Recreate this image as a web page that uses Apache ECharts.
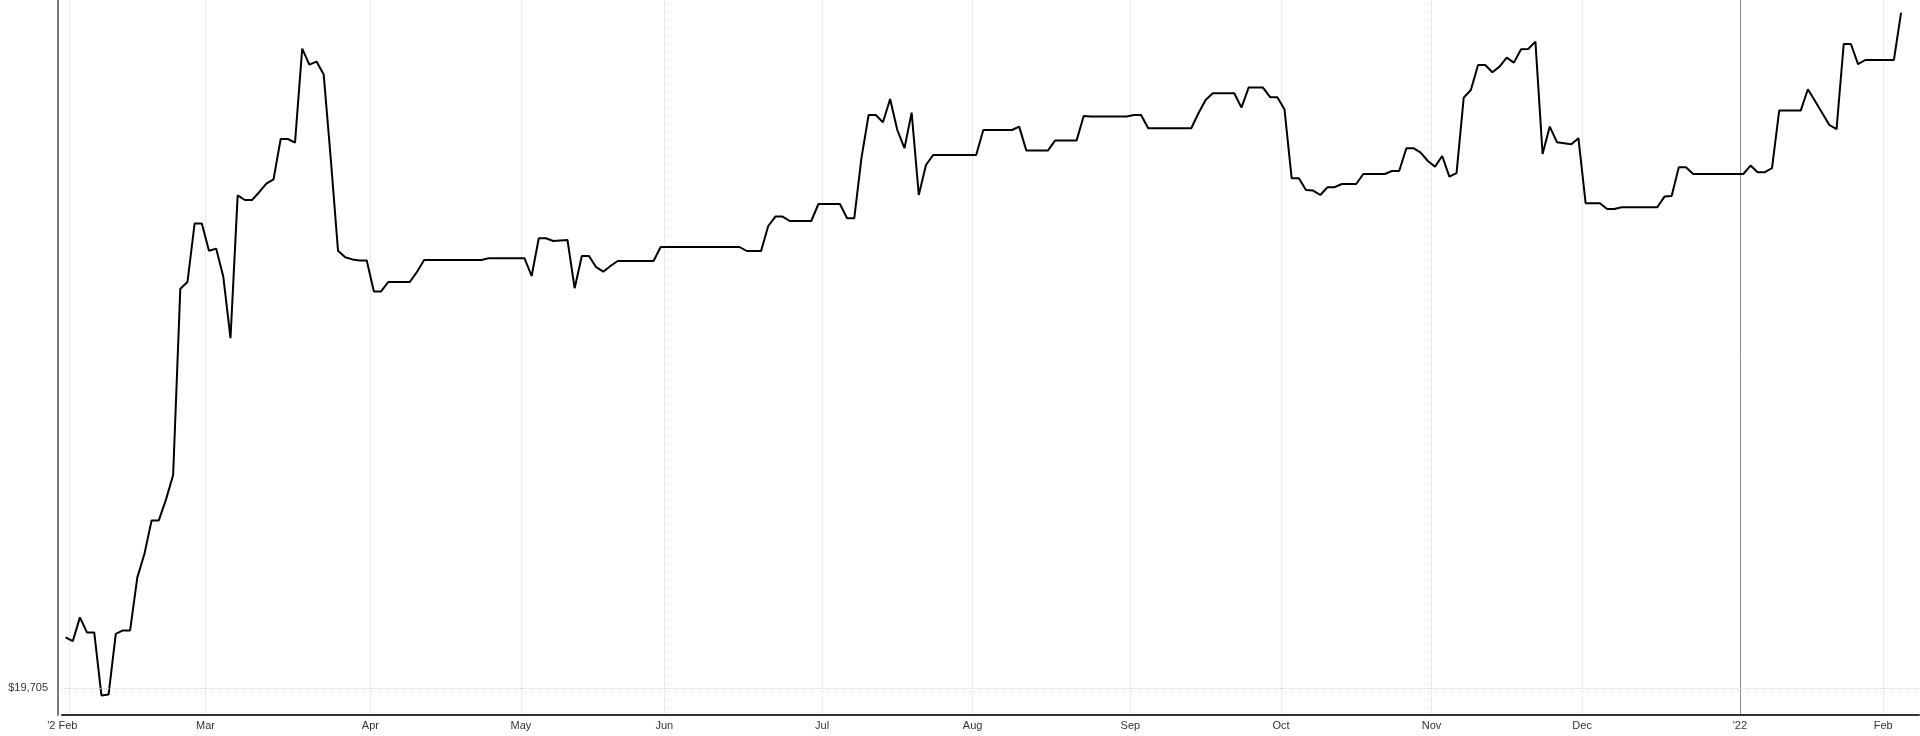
<!DOCTYPE html>
<html><head><meta charset="utf-8">
<script src="https://cdn.jsdelivr.net/npm/echarts@6/dist/echarts.min.js"></script>
<style>html,body{margin:0;padding:0;background:#fff}#c{width:1920px;height:736px}</style>
</head><body><div id="c"></div>
<script>
// ---- calendar (trading days) ----
const startDate = '2021-01-29';
const endDate = '2022-02-07';
const holidays = ['2021-02-15','2021-04-02','2021-05-31','2021-07-05','2021-09-06','2021-11-25','2021-12-24','2022-01-17'];
const yearStart = '2022-01-03';
const yearHelper = '2022-02-01';

// ---- tick labels ----
const monthLabels = ['Jan','Feb','Mar','Apr','May','Jun','Jul','Aug','Sep','Oct','Nov','Dec'];
const firstLabel = "'2 Feb";
const yearLabel = "'22";
const yLabelValues = [19705];

// ---- series values (closing values, one per trading day) ----
const jan2021 = [19958];
const feb2021 = [19939,20058,19982,19982,19668,19673,19976,19993,19993,20257,20376,20543,20543,20647,20770,21701,21735,22028,22028];
const mar2021 = [21891,21902,21761,21454,22168,22145,22145,22184,22227,22248,22450,22450,22432,22902,22822,22837,22772,22345,21891,21859,21848,21842,21842];
const apr2021 = [21688,21688,21735,21735,21735,21735,21785,21845,21845,21845,21845,21845,21845,21845,21845,21845,21854,21854,21854,21854,21854];
const may2021 = [21854,21765,21954,21954,21940,21943,21945,21704,21865,21865,21809,21787,21815,21840,21840,21840,21840,21840,21840,21910];
const jun2021 = [21910,21910,21910,21910,21910,21910,21910,21910,21910,21910,21910,21890,21890,21890,22015,22062,22062,22040,22040,22040,22040,22125];
const jul2021 = [22125,22125,22125,22054,22054,22354,22570,22570,22534,22650,22495,22404,22582,22170,22320,22370,22370,22370,22370,22370,22370];
const aug2021 = [22370,22495,22495,22495,22495,22495,22512,22392,22392,22392,22392,22442,22442,22442,22442,22565,22562,22562,22562,22562,22562,22562];
const sep2021 = [22570,22570,22504,22504,22504,22504,22504,22504,22504,22579,22645,22679,22679,22679,22679,22607,22707,22707,22707,22659,22659];
const oct2021 = [22599,22254,22254,22195,22192,22170,22209,22209,22225,22225,22225,22275,22275,22275,22275,22290,22290,22404,22404,22382,22340];
const nov2021 = [22312,22365,22262,22279,22657,22695,22820,22820,22784,22812,22857,22832,22899,22900,22937,22375,22512,22434,22429,22424,22454];
const dec2021 = [22129,22129,22129,22100,22100,22109,22109,22109,22109,22109,22109,22162,22165,22309,22309,22275,22275,22275,22275,22275,22275,22275];
const jan2022 = [22275,22317,22284,22284,22304,22592,22592,22592,22592,22699,22640,22580,22520,22499,22925,22925,22824,22845,22845,22845];
const feb2022 = [22845,22845,23082];

const values = [].concat(jan2021,feb2021,mar2021,apr2021,may2021,jun2021,jul2021,aug2021,sep2021,oct2021,nov2021,dec2021,jan2022,feb2022);

function tradingDays(start, end, hol) {
  const out = [];
  const d = new Date(start + 'T00:00:00Z');
  const e = new Date(end + 'T00:00:00Z');
  while (d <= e) {
    const wd = d.getUTCDay();
    const s = d.toISOString().slice(0, 10);
    if (wd !== 0 && wd !== 6 && hol.indexOf(s) < 0) out.push(s);
    d.setUTCDate(d.getUTCDate() + 1);
  }
  return out;
}
const categories = tradingDays(startDate, endDate, holidays);

function isMonthStart(i) {
  return i > 0 && i < categories.length && categories[i].slice(0, 7) !== categories[i - 1].slice(0, 7);
}
function labelFor(v) {
  if (v.slice(0, 7) === '2021-02') return '{f|' + firstLabel + '}';
  if (v.slice(0, 7) === '2022-01') return '{m|' + yearLabel + '}';
  return '{m|' + monthLabels[parseInt(v.slice(5, 7), 10) - 1] + '}';
}

const FONT = 'Liberation Sans, Arial, sans-serif';
const chart = echarts.init(document.getElementById('c'));
chart.setOption({
  animation: false,
  backgroundColor: '#fff',
  grid: { left: 62, right: 1, top: 0, bottom: 21 },
  xAxis: [{
    type: 'category',
    data: categories,
    boundaryGap: true,
    axisLine: { show: true, lineStyle: { color: '#333', width: 2 } },
    axisTick: { show: false },
    axisLabel: {
      interval: (i) => isMonthStart(i),
      formatter: labelFor,
      margin: 5,
      color: '#333',
      fontFamily: FONT,
      fontSize: 11,
      rich: {
        m: { fontSize: 11, color: '#333', fontFamily: FONT, padding: [0, 7, 0, 0] },
        f: { fontSize: 11, color: '#333', fontFamily: FONT, padding: [0, 21, 0, 0] }
      }
    },
    splitLine: {
      show: true,
      showMaxLine: false,
      interval: (i, v) => isMonthStart(i) && v !== yearStart,
      lineStyle: { color: '#dadada', type: 'dotted', width: 1 }
    }
  }, {
    type: 'category',
    data: categories,
    boundaryGap: true,
    position: 'bottom',
    axisLine: { show: false },
    axisLabel: { show: false },
    axisTick: { show: false },
    splitLine: {
      show: true,
      showMaxLine: false,
      interval: (i, v) => v === yearStart || v === yearHelper,
      lineStyle: { color: ['#8a8a8a', 'rgba(0,0,0,0)'], type: 'solid', width: 1 }
    }
  }],
  yAxis: {
    type: 'value',
    min: 19570,
    max: 23145,
    offset: 4,
    axisLine: { show: true, lineStyle: { color: '#7a7a7a', width: 2 } },
    axisTick: { show: false },
    splitLine: { show: false },
    axisLabel: {
      customValues: yLabelValues,
      formatter: (v) => (yLabelValues.indexOf(v) >= 0 ? '$' + v.toLocaleString('en-US') : ''),
      margin: 10,
      color: '#333',
      fontFamily: FONT,
      fontSize: 11
    }
  },
  series: [{
    type: 'line',
    xAxisIndex: 0,
    data: values,
    showSymbol: false,
    symbol: 'none',
    lineStyle: { color: '#000', width: 2 },
    markLine: {
      silent: true,
      symbol: 'none',
      label: { show: false },
      lineStyle: { color: '#d6d6d6', type: 'dotted', width: 1 },
      data: yLabelValues.map(v => ({ yAxis: v }))
    }
  }]
});
</script>
</body></html>
